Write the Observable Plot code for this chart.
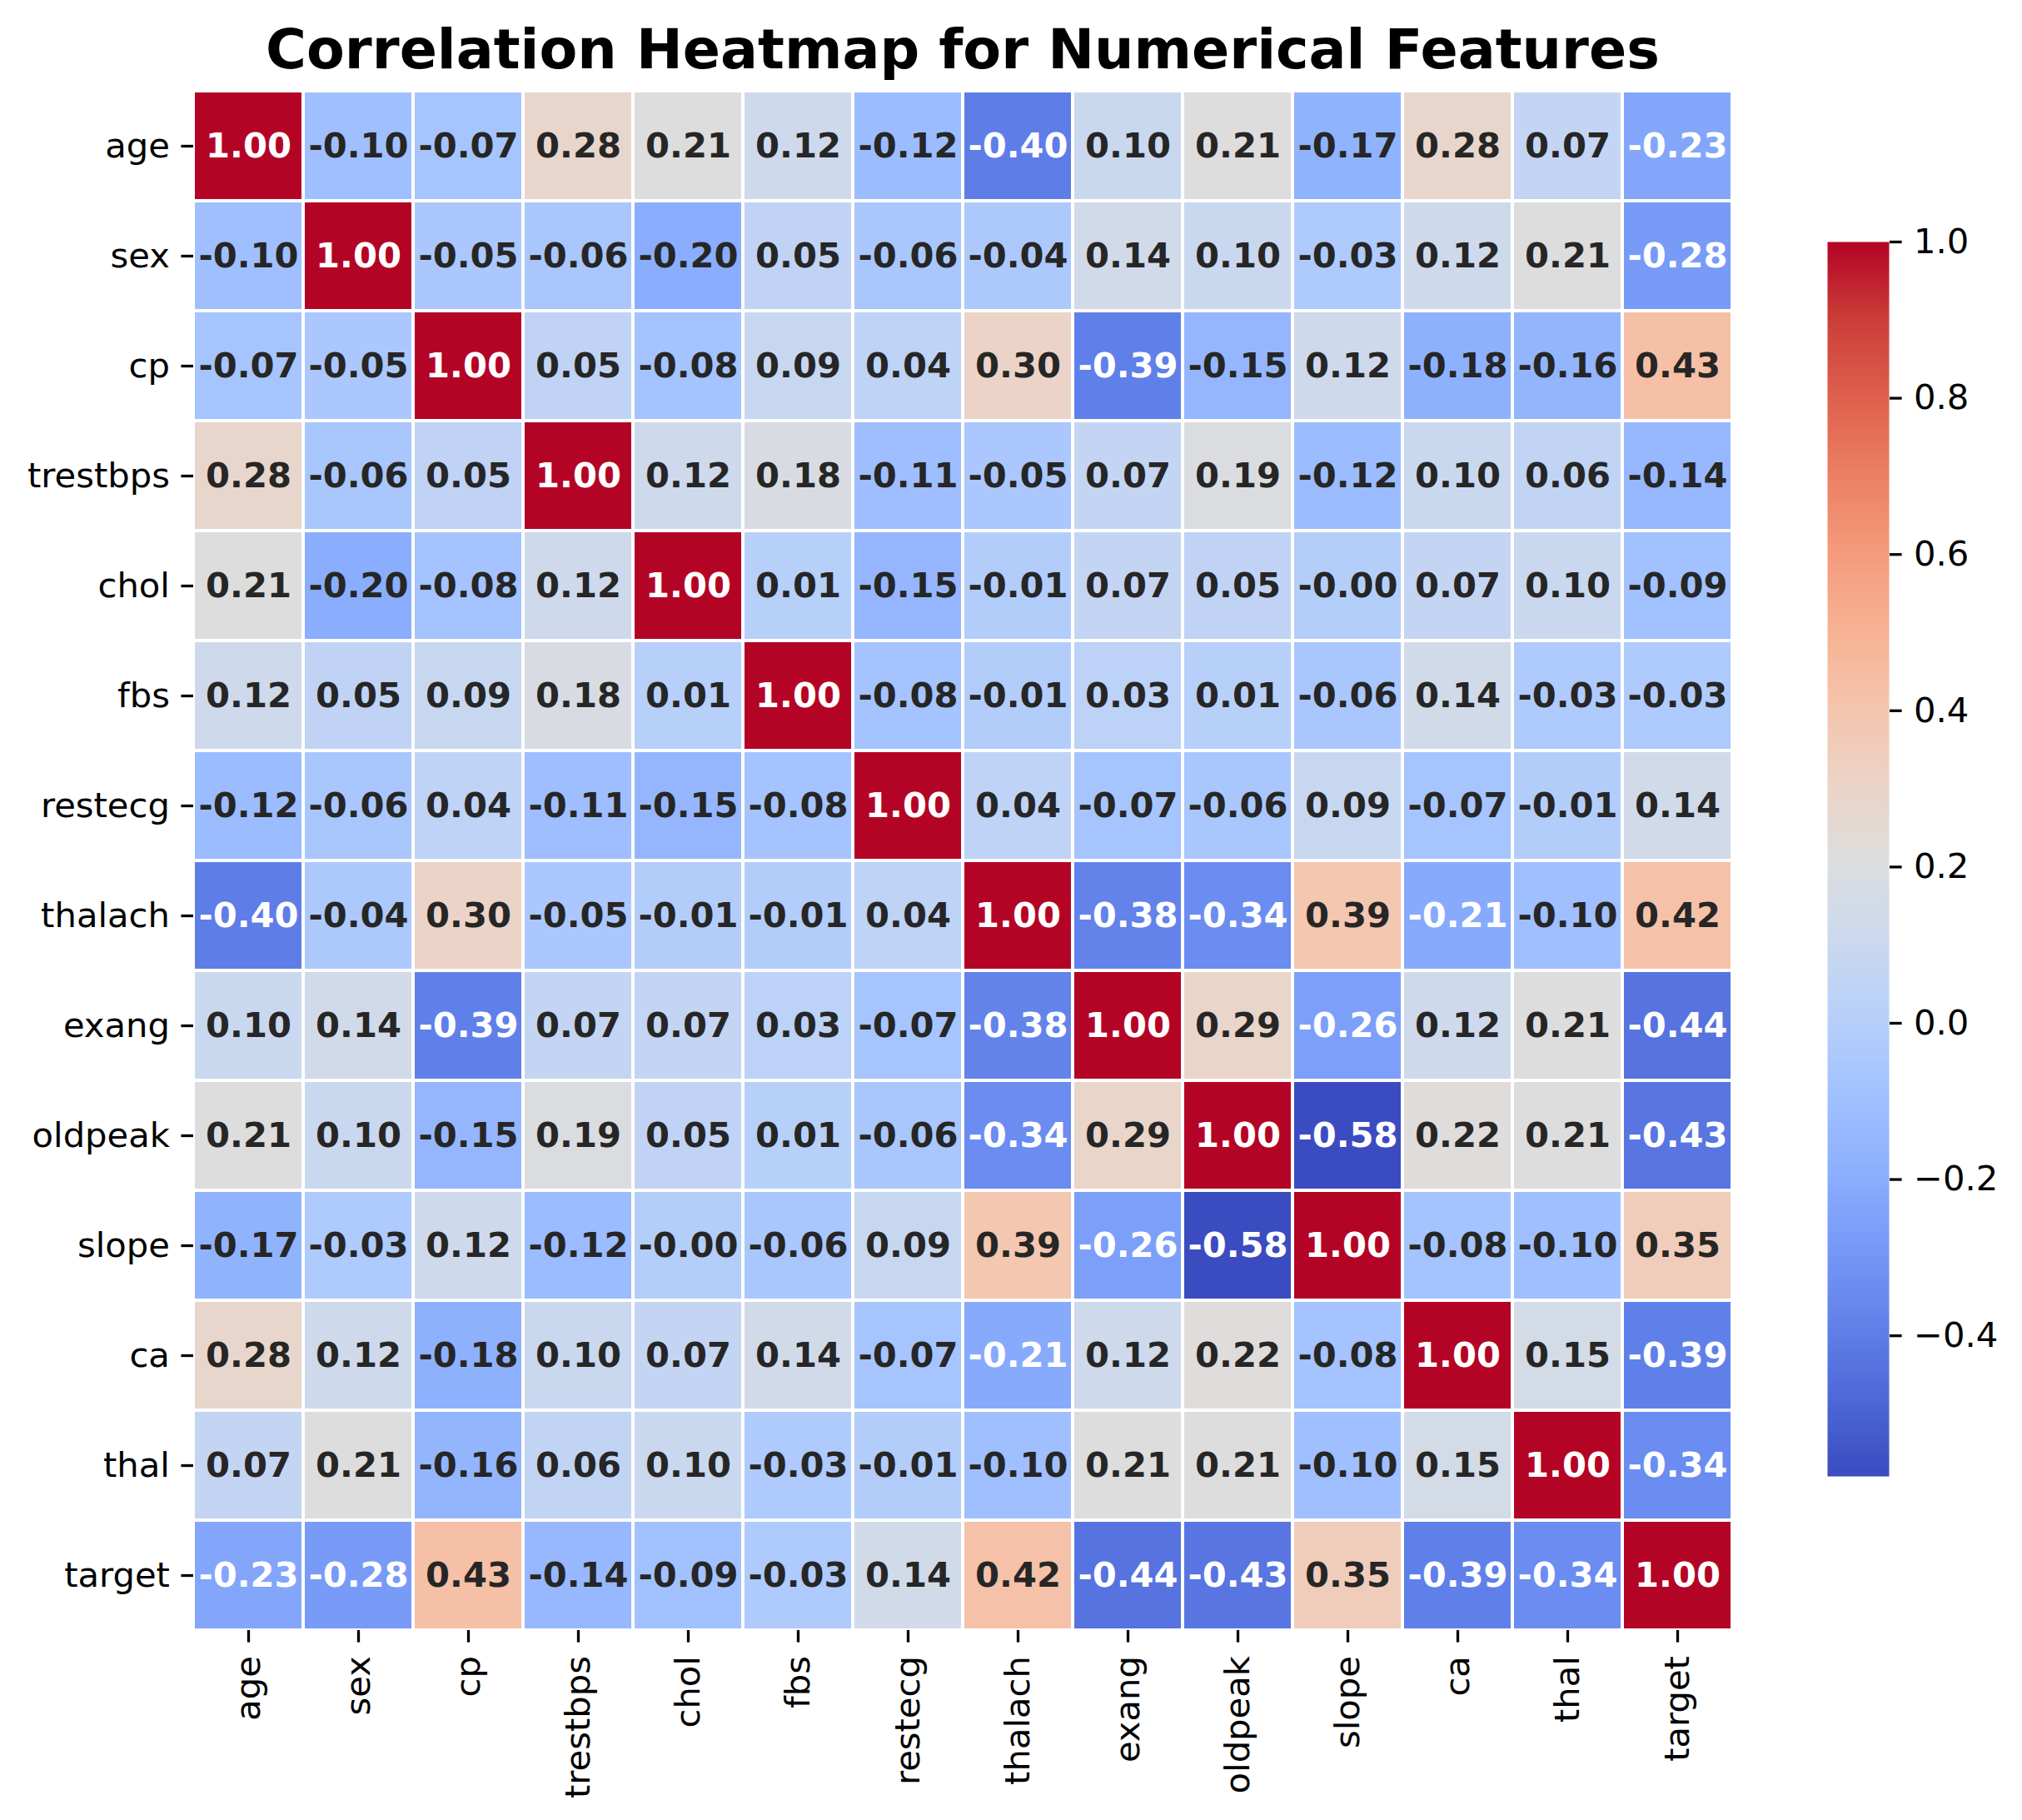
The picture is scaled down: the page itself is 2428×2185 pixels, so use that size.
<!DOCTYPE html>
<html>
<head>
<meta charset="utf-8">
<script src="https://cdn.jsdelivr.net/npm/d3@7"></script>
<script src="https://cdn.jsdelivr.net/npm/@observablehq/plot@0.6"></script>
<style>
  html, body { margin: 0; padding: 0; background: #fff; }
  #chart { position: relative; width: 2428px; height: 2185px; font-family: "DejaVu Sans", sans-serif; }
  #title { position: absolute; left: 232px; width: 1848px; top: 26px; text-align: center;
           font-size: 66.7px; font-weight: bold; line-height: 1; white-space: nowrap; color: #000; }
  #heat { position: absolute; left: 0; top: 0; }
  #cbar { position: absolute; left: 2194px; top: 0; }
</style>
</head>
<body>
<div id="chart">
  <div id="title">Correlation Heatmap for Numerical Features</div>
  <div id="heat"></div>
  <div id="cbar"></div>
</div>
<script>
const features = ["age", "sex", "cp", "trestbps", "chol", "fbs", "restecg",
  "thalach", "exang", "oldpeak", "slope", "ca", "thal", "target"];

// one row of the correlation matrix per feature
const age      = [1.00, -0.10, -0.07, 0.28, 0.21, 0.12, -0.12, -0.40, 0.10, 0.21, -0.17, 0.28, 0.07, -0.23];
const sex      = [-0.10, 1.00, -0.05, -0.06, -0.20, 0.05, -0.06, -0.04, 0.14, 0.10, -0.03, 0.12, 0.21, -0.28];
const cp       = [-0.07, -0.05, 1.00, 0.05, -0.08, 0.09, 0.04, 0.30, -0.39, -0.15, 0.12, -0.18, -0.16, 0.43];
const trestbps = [0.28, -0.06, 0.05, 1.00, 0.12, 0.18, -0.11, -0.05, 0.07, 0.19, -0.12, 0.10, 0.06, -0.14];
const chol     = [0.21, -0.20, -0.08, 0.12, 1.00, 0.01, -0.15, -0.01, 0.07, 0.05, -0.004, 0.07, 0.10, -0.09];
const fbs      = [0.12, 0.05, 0.09, 0.18, 0.01, 1.00, -0.08, -0.01, 0.03, 0.01, -0.06, 0.14, -0.03, -0.03];
const restecg  = [-0.12, -0.06, 0.04, -0.11, -0.15, -0.08, 1.00, 0.04, -0.07, -0.06, 0.09, -0.07, -0.01, 0.14];
const thalach  = [-0.40, -0.04, 0.30, -0.05, -0.01, -0.01, 0.04, 1.00, -0.38, -0.34, 0.39, -0.21, -0.10, 0.42];
const exang    = [0.10, 0.14, -0.39, 0.07, 0.07, 0.03, -0.07, -0.38, 1.00, 0.29, -0.26, 0.12, 0.21, -0.44];
const oldpeak  = [0.21, 0.10, -0.15, 0.19, 0.05, 0.01, -0.06, -0.34, 0.29, 1.00, -0.58, 0.22, 0.21, -0.43];
const slope    = [-0.17, -0.03, 0.12, -0.12, -0.004, -0.06, 0.09, 0.39, -0.26, -0.58, 1.00, -0.08, -0.10, 0.35];
const ca       = [0.28, 0.12, -0.18, 0.10, 0.07, 0.14, -0.07, -0.21, 0.12, 0.22, -0.08, 1.00, 0.15, -0.39];
const thal     = [0.07, 0.21, -0.16, 0.06, 0.10, -0.03, -0.01, -0.10, 0.21, 0.21, -0.10, 0.15, 1.00, -0.34];
const target   = [-0.23, -0.28, 0.43, -0.14, -0.09, -0.03, 0.14, 0.42, -0.44, -0.43, 0.35, -0.39, -0.34, 1.00];

const colorbarTicks = [-0.4, -0.2, 0.0, 0.2, 0.4, 0.6, 0.8, 1.0];

const rows = [age, sex, cp, trestbps, chol, fbs, restecg, thalach, exang, oldpeak, slope, ca, thal, target];
const cells = rows.flatMap((r, i) => r.map((v, j) => ({row: features[i], col: features[j], value: v})));

// coolwarm (Moreland) sampled every 1/16
const coolwarm = d3.piecewise(d3.interpolateRgb, [
  "#3b4cc0", "#4d68d7", "#6282ea", "#779af7", "#8db0fe", "#a3c2ff", "#b8d0f9", "#ccd9ee",
  "#dddddd", "#ecd3c5", "#f5c4ac", "#f7b193", "#f49a7b", "#ec7f63", "#de604d", "#cb3e38", "#b40426"
]);
const vmin = d3.min(cells, (d) => d.value);
const vmax = 1;

// same rule as seaborn: light text on dark cells
const lin = (c) => (c /= 255) <= 0.03928 ? c / 12.92 : Math.pow((c + 0.055) / 1.055, 2.4);
const isDark = (v) => {
  const c = d3.rgb(coolwarm((v - vmin) / (vmax - vmin)));
  const lum = 0.2126 * lin(c.r) + 0.7152 * lin(c.g) + 0.0722 * lin(c.b);
  return lum <= 0.412;
};

const FS = 41.7;
const label = (d) => d.value.toFixed(2);

const heat = Plot.plot({
  width: 2180,
  height: 2185,
  marginLeft: 232,
  marginRight: 100,
  marginTop: 109,
  marginBottom: 228,
  style: {fontFamily: "DejaVu Sans", fontSize: FS + "px", color: "#000", background: "transparent"},
  x: {domain: features, padding: 0, label: null},
  y: {domain: features, padding: 0, label: null},
  color: {type: "linear", domain: [vmin, vmax], interpolate: coolwarm},
  marks: [
    Plot.cell(cells, {x: "col", y: "row", fill: "value", inset: 2}),
    Plot.text(cells.filter((d) => isDark(d.value)), {
      x: "col", y: "row", text: label, fill: "white", fontWeight: "bold", fontSize: FS
    }),
    Plot.text(cells.filter((d) => !isDark(d.value)), {
      x: "col", y: "row", text: label, fill: "#262626", fontWeight: "bold", fontSize: FS
    }),
    Plot.axisY({tickSize: 14.6, tickPadding: 14, strokeWidth: 3.3, fontSize: FS, label: null}),
    Plot.axisX({anchor: "bottom", tickSize: 14.6, tickPadding: 16, tickRotate: -90,
      strokeWidth: 3.3, fontSize: FS, label: null})
  ]
});
document.getElementById("heat").appendChild(heat);

const cbar = Plot.plot({
  width: 234,
  height: 2185,
  marginLeft: 0,
  marginRight: 160,
  marginTop: 290,
  marginBottom: 413,
  style: {fontFamily: "DejaVu Sans", fontSize: FS + "px", color: "#000", background: "transparent"},
  x: {domain: [0, 1], axis: null},
  y: {domain: [vmin, vmax]},
  color: {type: "linear", domain: [vmin, vmax], interpolate: coolwarm},
  marks: [
    Plot.raster({x1: 0, x2: 1, y1: vmin, y2: vmax, width: 1, height: 800,
      fill: (x, y) => y, imageRendering: "auto"}),
    Plot.axisY({anchor: "right", ticks: colorbarTicks, tickFormat: d3.format(".1f"),
      tickSize: 14.6, tickPadding: 15, strokeWidth: 3.3, fontSize: FS, label: null})
  ]
});
document.getElementById("cbar").appendChild(cbar);
</script>
</body>
</html>
